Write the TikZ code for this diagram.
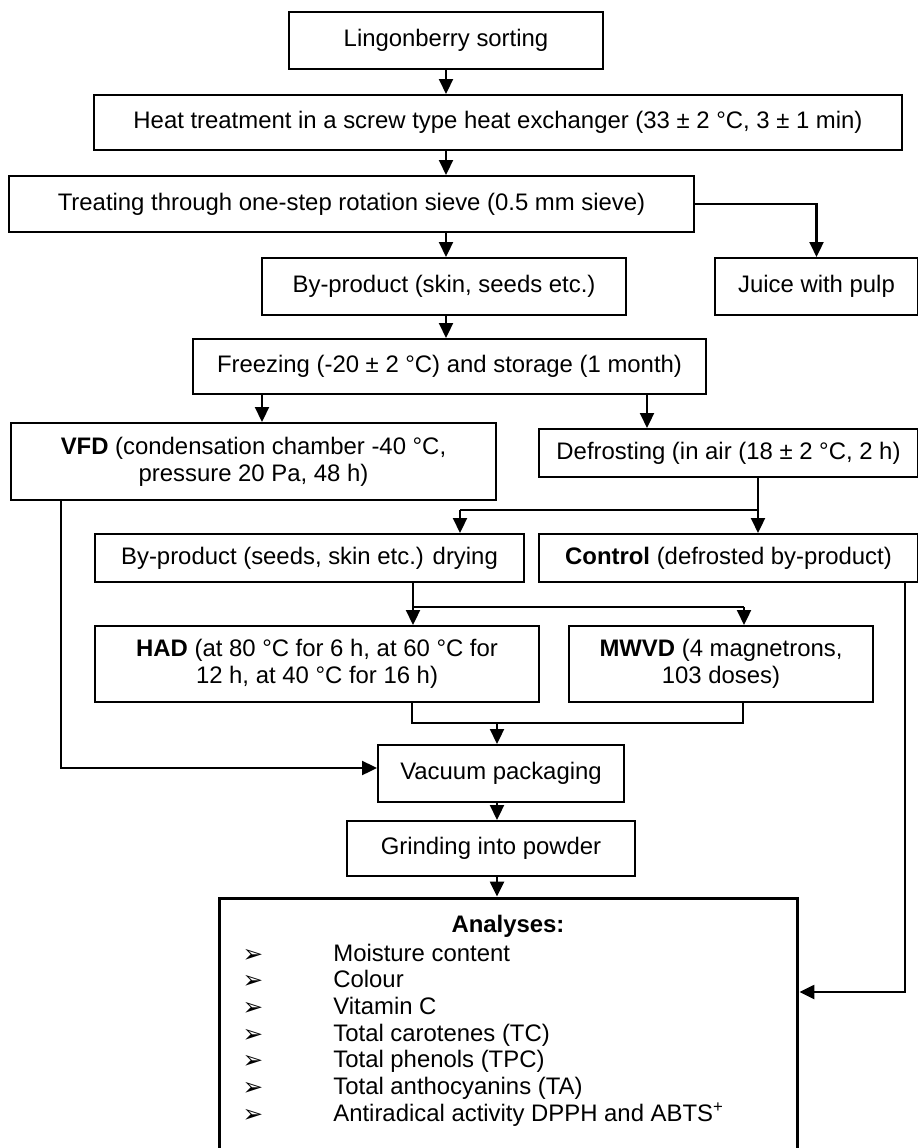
\documentclass[tikz,border=0pt]{standalone}
\usepackage{fontspec}
\setmainfont{Liberation Sans}
\newfontfamily\dejavu{DejaVu Sans}
\usetikzlibrary{arrows.meta}

\begin{document}
\begin{tikzpicture}[x=0.02cm, y=-0.02cm,
	% styles for the boxes and the connectors
	box/.style={draw, line width=1.2pt, rectangle, align=center, inner sep=0pt,
		font=\fontsize{13.6}{15.3}\selectfont},
	arr/.style={line width=1.2pt, -{Triangle[length=8.5pt, width=8pt]}},
	link/.style={line width=1.2pt}
	]
	\useasboundingbox (0,0) rectangle (918,1148);
	
	% Define and place the boxes
	\node[box, minimum width=6.28cm, minimum height=1.14cm] (sort) at (446,40.5) {Lingonberry sorting};
	\node[box, minimum width=16.16cm, minimum height=1.10cm] (heat) at (498,122.5) {Heat treatment in a screw type heat exchanger (33 ± 2 °C, 3 ± 1 min)};
	\node[box, minimum width=13.70cm, minimum height=1.12cm] (sieve) at (351.5,204) {Treating through one-step rotation sieve (0.5 mm sieve)};
	\node[box, minimum width=7.28cm, minimum height=1.14cm] (byprod) at (444,286.5) {By-product (skin, seeds etc.)};
	\node[box, minimum width=4.06cm, minimum height=1.14cm] (juice) at (816.5,286.5) {Juice with pulp};
	\node[box, minimum width=10.26cm, minimum height=1.10cm] (freeze) at (449.5,366.5) {Freezing (-20 ± 2 °C) and storage (1 month)};
	\node[box, minimum width=9.70cm, minimum height=1.54cm] (vfd) at (253.5,461.5) {\textbf{VFD} (condensation chamber -40 °C,\\pressure 20 Pa, 48 h)};
	\node[box, minimum width=7.58cm, minimum height=0.96cm] (defrost) at (728.5,453) {Defrosting (in air (18 ± 2 °C, 2 h)};
	\node[box, minimum width=8.58cm, minimum height=0.96cm] (drying) at (309.5,558) {By-product (seeds, skin etc.) drying};
	\node[box, minimum width=7.58cm, minimum height=0.96cm] (control) at (728.5,558) {\textbf{Control} (defrosted by-product)};
	\node[box, minimum width=8.88cm, minimum height=1.52cm] (had) at (317,664) {\textbf{HAD} (at 80 °C for 6 h, at 60 °C for\\12 h, at 40 °C for 16 h)};
	\node[box, minimum width=6.08cm, minimum height=1.52cm] (mwvd) at (721,664) {\textbf{MWVD} (4 magnetrons,\\103 doses)};
	\node[box, minimum width=4.92cm, minimum height=1.14cm] (vacuum) at (501,773.5) {Vacuum packaging};
	\node[box, minimum width=5.76cm, minimum height=1.10cm] (grind) at (491,848.5) {Grinding into powder};
	\node[box, line width=1.7pt, minimum width=11.58cm, minimum height=5.08cm] (analyses) at (508.5,1025) {};
	
	% contents of the analyses box
	\node[anchor=base, font=\fontsize{13.6}{15.3}\selectfont\bfseries] (atitle) at (508,932) {Analyses:};
	\foreach \txt [count=\i] in {Moisture content, Colour, Vitamin C, Total carotenes (TC),
		Total phenols (TPC), Total anthocyanins (TA), Antiradical activity DPPH and ABTS\textsuperscript{+}} {
		\node[anchor=base, inner sep=0pt, font=\dejavu\fontsize{14}{16}\selectfont] (b\i) at (253,{935.3+26.7*\i}) {➢};
		\node[anchor=base west, inner sep=0pt, font=\fontsize{13.6}{15.3}\selectfont] (t\i) at (333,{934.3+26.7*\i}) {\txt};
	}
	
	% points where the connectors bend or split
	\coordinate (xa) at (262,0);
	\coordinate (xb) at (647,0);
	\coordinate (j1) at (758,510);
	\coordinate (j2) at (460,510);
	\coordinate (j3) at (413,607);
	\coordinate (j4) at (744,607);
	\coordinate (j5) at (412,723);
	\coordinate (j6) at (743,723);
	\coordinate (j7) at (497,723);
	\coordinate (j8) at (61,768);
	\coordinate (j9) at (905,992);
	
	% --- Draw the connectors ---
	\draw[arr] (sort.south) -- (sort.south |- heat.north);
	\draw[arr] (heat.south -| sort) -- (sieve.north -| sort);
	\draw[arr] (sieve.south -| sort) -- (byprod.north -| sort);
	\draw[arr] (sieve.east) -| (juice.north);
	\draw[arr] (byprod.south -| sort) -- (freeze.north -| sort);
	\draw[arr] (freeze.south -| xa) -- (vfd.north -| xa);
	\draw[arr] (freeze.south -| xb) -- (defrost.north -| xb);
	\draw[link] (defrost.south -| j1) -- (j1) -- (j2);
	\draw[arr] (j2) -- (drying.north -| j2);
	\draw[arr] (j1) -- (control.north -| j1);
	\draw[link] (drying.south -| j3) -- (j3) -- (j4);
	\draw[arr] (j3) -- (had.north -| j3);
	\draw[arr] (j4) -- (mwvd.north -| j4);
	\draw[link] (had.south -| j5) -- (j5) -- (j6) -- (mwvd.south -| j6);
	\draw[arr] (j7) -- (vacuum.north -| j7);
	\draw[arr] (vfd.south -| j8) -- (j8) -- (vacuum.west |- j8);
	\draw[arr] (vacuum.south -| j7) -- (grind.north -| j7);
	\draw[arr] (grind.south -| j7) -- (analyses.north -| j7);
	\draw[arr] (control.south -| j9) -- (j9) -- (analyses.east |- j9);
\end{tikzpicture}
\end{document}
